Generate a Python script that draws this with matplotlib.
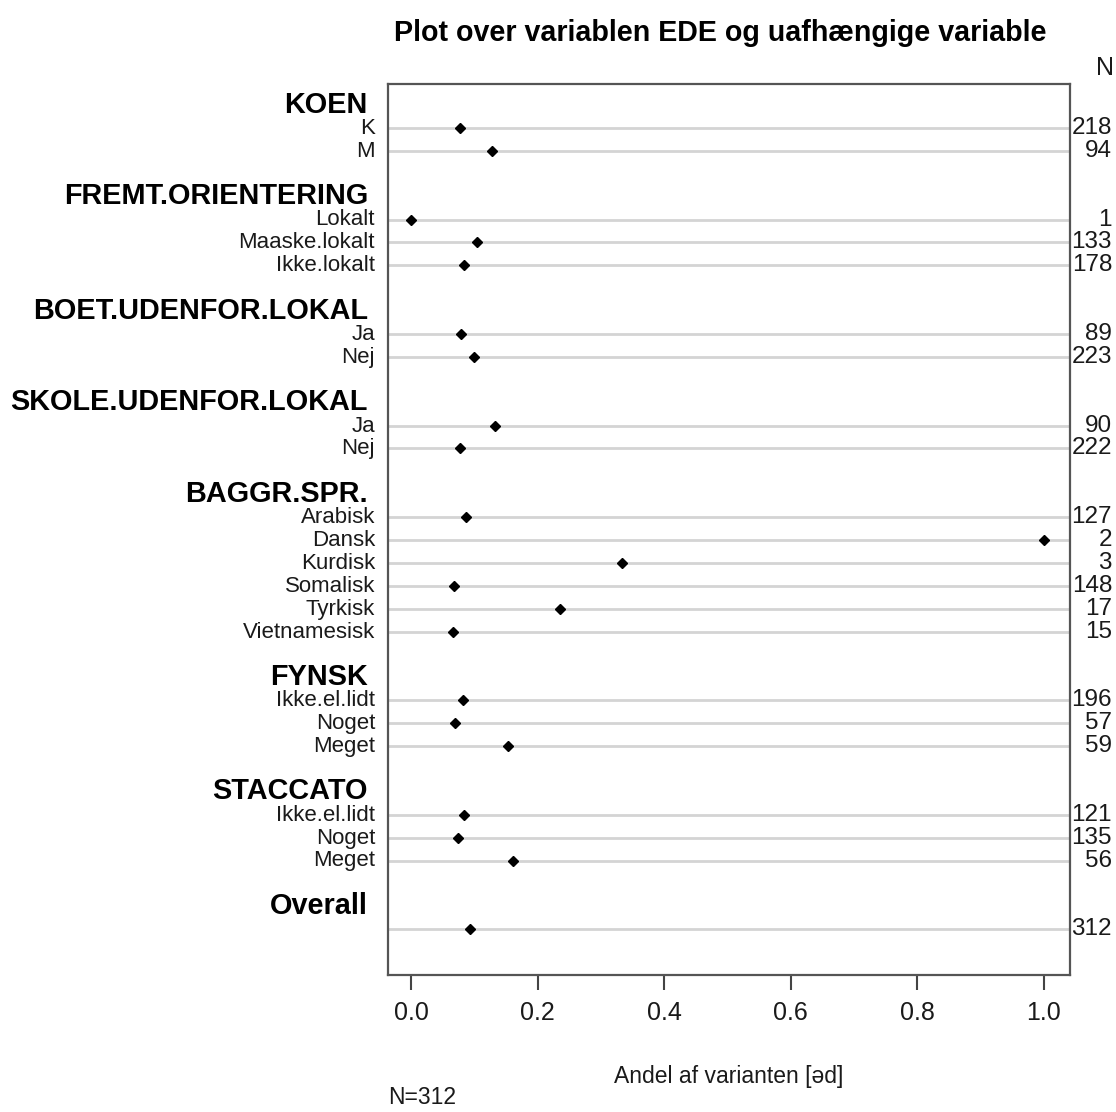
import matplotlib
matplotlib.use("Agg")
import matplotlib.pyplot as plt
from matplotlib.transforms import blended_transform_factory

plt.rcParams['font.family'] = ['Liberation Sans', 'DejaVu Sans']

groups = ["KOEN", "FREMT.ORIENTERING", "BOET.UDENFOR.LOKAL", "SKOLE.UDENFOR.LOKAL",
          "BAGGR.SPR.", "FYNSK", "STACCATO", "Overall"]
levels = [
    ["K", "M"],
    ["Lokalt", "Maaske.lokalt", "Ikke.lokalt"],
    ["Ja", "Nej"],
    ["Ja", "Nej"],
    ["Arabisk", "Dansk", "Kurdisk", "Somalisk", "Tyrkisk", "Vietnamesisk"],
    ["Ikke.el.lidt", "Noget", "Meget"],
    ["Ikke.el.lidt", "Noget", "Meget"],
    [""],
]
values = [
    [0.078, 0.128],
    [0.000, 0.105, 0.084],
    [0.079, 0.099],
    [0.133, 0.077],
    [0.087, 1.000, 0.333, 0.068, 0.235, 0.067],
    [0.082, 0.070, 0.153],
    [0.083, 0.074, 0.161],
    [0.093],
]
counts = [
    [218, 94],
    [1, 133, 178],
    [89, 223],
    [90, 222],
    [127, 2, 3, 148, 17, 15],
    [196, 57, 59],
    [121, 135, 56],
    [312],
]
xticks = [0.0, 0.2, 0.4, 0.6, 0.8, 1.0]

W, H = 1116, 1112
fig = plt.figure(figsize=(W / 100, H / 100), dpi=100)
L, R, T, B = 388, 1070, 84, 975
ax = fig.add_axes([L / W, 1 - B / H, (R - L) / W, (B - T) / H])

txtcol = '#1a1a1a'
row = 0
trans_lab = blended_transform_factory(fig.transFigure, ax.transData)
for g, levs, vals, ns in zip(groups, levels, values, counts):
    ax.text(368 / W, row - 0.02, g, transform=trans_lab, ha='right', va='center',
            fontsize=20.8, fontweight='bold', color='black')
    row += 1
    for lv, v, n in zip(levs, vals, ns):
        ax.axhline(row, color='#d4d4d4', lw=2, zorder=1)
        ax.plot([v], [row], marker='D', ms=5.5, color='black', ls='none', zorder=3)
        if lv:
            ax.text(375 / W, row + 0.02, lv, transform=trans_lab, ha='right', va='center',
                    fontsize=16, color=txtcol)
        ax.text(1112 / W, row, str(n), transform=trans_lab, ha='right', va='center',
                fontsize=17.5, color=txtcol)
        row += 1
    row += 1

ax.set_xlim(-0.0363, 1.0411)
ax.set_ylim(38.0, -0.92)
ax.set_yticks([])
ax.set_xticks(xticks)
ax.set_xticklabels([f"{t:.1f}" for t in xticks])
ax.tick_params(axis='x', direction='out', length=11, width=1.5, colors='#444444',
               labelcolor=txtcol, labelsize=18, pad=8)
for s in ax.spines.values():
    s.set_color('#555555')
    s.set_linewidth(1.6)

fig.text(720 / W, 1 - 33 / H, "Plot over variablen EDE og uafhængige variable",
         ha='center', va='center', fontsize=20.6, fontweight='bold', color='black')
fig.text(1105 / W, 1 - 68 / H, "N", ha='center', va='center', fontsize=18, color=txtcol)
fig.text(729 / W, 1 - 1077 / H, "Andel af varianten [əd]", ha='center', va='center',
         fontsize=16.5, color=txtcol)
fig.text(388 / W, 1 - 1098 / H, "N=312", ha='left', va='center', fontsize=16.5, color=txtcol)

fig.savefig("out.png", dpi=100, facecolor='white')
